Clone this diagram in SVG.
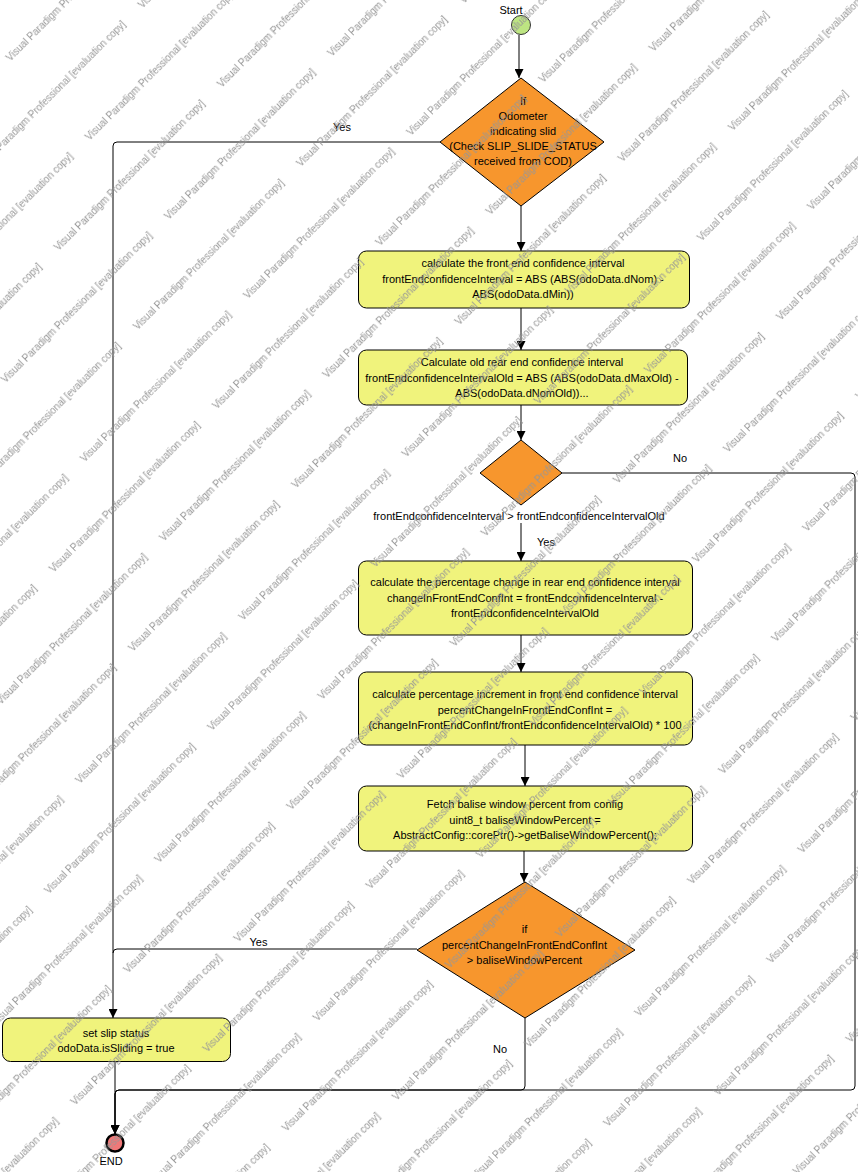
<svg xmlns="http://www.w3.org/2000/svg" width="858" height="1172" viewBox="0 0 858 1172">
<style>
text{font-family:"Liberation Sans",Arial,sans-serif;font-size:11px;fill:#000}
.box{fill:#f0f37c;stroke:#000;stroke-width:1}
.dia{fill:#f7962d;stroke:#000;stroke-width:1}
.c{text-anchor:middle}
.edge{fill:none;stroke:#000;stroke-width:1}
.wm{font-size:10px;fill:#969696}
</style>
<defs>
<marker id="arr" viewBox="0 0 10 10" refX="10" refY="5" markerWidth="10" markerHeight="9" markerUnits="userSpaceOnUse" orient="auto">
<path d="M0,0 L10,5 L0,10 z" fill="#000"/>
</marker>
<pattern id="wmp" patternUnits="userSpaceOnUse" width="230.8" height="112" patternTransform="rotate(-45)">
<text class="wm" x="-36.5" y="51">Visual Paradigm Professional [evaluation copy]</text>
<text class="wm" x="194.3" y="51">Visual Paradigm Professional [evaluation copy]</text>
<text class="wm" x="94.3" y="107">Visual Paradigm Professional [evaluation copy]</text>
<text class="wm" x="-136.5" y="107">Visual Paradigm Professional [evaluation copy]</text>
</pattern>
</defs>
<rect width="858" height="1172" fill="#fff"/>
<g id="connectors">
<path class="edge" d="M519,35 V78" marker-end="url(#arr)"/>
<path class="edge" d="M440,142 H117 Q113,142 113,146 V1018" marker-end="url(#arr)"/>
<path class="edge" d="M521,206 V251" marker-end="url(#arr)"/>
<path class="edge" d="M521,308 V350" marker-end="url(#arr)"/>
<path class="edge" d="M521,405 V440" marker-end="url(#arr)"/>
<path class="edge" d="M562,473 H851 Q855,473 855,477 V1086 Q855,1090 851,1090 H119 Q115,1090 115,1094 V1134" marker-end="url(#arr)"/>
<path class="edge" d="M521,523 V561" marker-end="url(#arr)"/>
<path class="edge" d="M521,635 V672" marker-end="url(#arr)"/>
<path class="edge" d="M525,745 V786" marker-end="url(#arr)"/>
<path class="edge" d="M524,851 V882" marker-end="url(#arr)"/>
<path class="edge" d="M417,949 H117 Q113,949 113,953"/>
<path class="edge" d="M525,1018 V1086 Q525,1090 521,1090 H119 Q115,1090 115,1094 V1134" marker-end="url(#arr)"/>
<path class="edge" d="M115,1062 V1134" marker-end="url(#arr)"/>
<text class="c" x="342" y="131">Yes</text>
<text class="c" x="680" y="462">No</text>
<text class="c" x="519" y="519.5">frontEndconfidenceInterval &gt; frontEndconfidenceIntervalOld</text>
<text class="c" x="546" y="546">Yes</text>
<text class="c" x="258.5" y="946">Yes</text>
<text class="c" x="500" y="1053">No</text>
</g>
<g id="start">
<circle cx="521" cy="25" r="9.5" fill="#bde582" stroke="#333" stroke-width="1"/>
<text class="c" x="511" y="14">Start</text>
</g>
<g id="decision1">
<polygon class="dia" points="521,78 604,142 521,206 440,142"/>
<text class="c" x="523" y="105">If</text>
<text class="c" x="523" y="120">Odometer</text>
<text class="c" x="523" y="135">indicating slid</text>
<text class="c" x="523" y="150">(Check SLIP_SLIDE_STATUS</text>
<text class="c" x="523" y="165">received from COD)</text>
</g>
<g id="calcFront">
<rect class="box" x="358.5" y="251" width="331" height="57" rx="8"/>
<text class="c" x="523" y="267">calculate the front end confidence interval</text>
<text class="c" x="523" y="282.5">frontEndconfidenceInterval = ABS (ABS(odoData.dNom) -</text>
<text class="c" x="523" y="298">ABS(odoData.dMin))</text>
</g>
<g id="calcOld">
<rect class="box" x="358.5" y="350" width="329" height="55" rx="8"/>
<text class="c" x="522" y="366">Calculate old rear end confidence interval</text>
<text class="c" x="522" y="381.5">frontEndconfidenceIntervalOld = ABS (ABS(odoData.dMaxOld) -</text>
<text class="c" x="522" y="397">ABS(odoData.dNomOld))...</text>
</g>
<g id="decision2">
<polygon class="dia" points="521,440 562,473 521,505 480,473"/>
</g>
<g id="calcChange">
<rect class="box" x="358.5" y="561" width="334" height="74" rx="8"/>
<text class="c" x="525" y="586">calculate the percentage change in rear end confidence interval</text>
<text class="c" x="525" y="601.5">changeInFrontEndConfInt = frontEndconfidenceInterval -</text>
<text class="c" x="525" y="617">frontEndconfidenceIntervalOld</text>
</g>
<g id="calcPercent">
<rect class="box" x="358.5" y="672" width="334" height="73" rx="8"/>
<text class="c" x="525" y="698">calculate percentage increment in front end confidence interval</text>
<text class="c" x="525" y="713.5">percentChangeInFrontEndConfInt =</text>
<text class="c" x="525" y="729">(changeInFrontEndConfInt/frontEndconfidenceIntervalOld) * 100</text>
</g>
<g id="fetchBalise">
<rect class="box" x="358.5" y="786" width="334" height="65" rx="8"/>
<text class="c" x="525" y="808">Fetch balise window percent from config</text>
<text class="c" x="525" y="823.5">uint8_t baliseWindowPercent =</text>
<text class="c" x="525" y="839">AbstractConfig::corePtr()-&gt;getBaliseWindowPercent();</text>
</g>
<g id="decision3">
<polygon class="dia" points="525,882 635,950 525,1018 417,950"/>
<text class="c" x="524.5" y="933">if</text>
<text class="c" x="524.5" y="948.5">percentChangeInFrontEndConfInt</text>
<text class="c" x="524.5" y="964">&gt; baliseWindowPercent</text>
</g>
<g id="setSlip">
<rect class="box" x="2.5" y="1018" width="228" height="43.5" rx="8"/>
<text class="c" x="116" y="1036.5">set slip status</text>
<text class="c" x="116" y="1051.5">odoData.isSliding = true</text>
</g>
<g id="end">
<circle cx="115" cy="1143" r="8.5" fill="#f07878" stroke="#000" stroke-width="2.5"/>
<text class="c" x="111" y="1165">END</text>
</g>
<rect id="watermark" width="858" height="1172" fill="url(#wmp)" pointer-events="none"/>
</svg>
